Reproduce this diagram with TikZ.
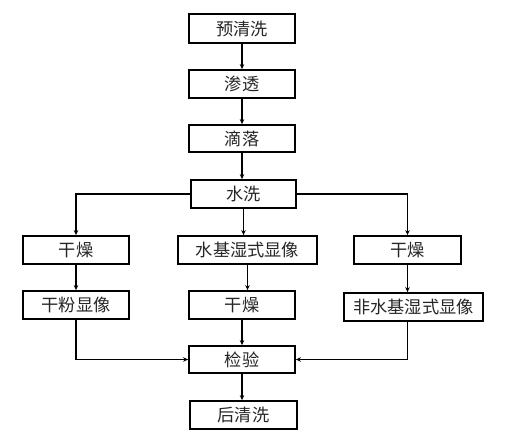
\documentclass[tikz,border=0pt]{standalone}
\usepackage{fontspec}
\newfontfamily\cjk{Noto Sans CJK SC}
\usetikzlibrary{arrows.meta}
\begin{document}
\begin{tikzpicture}[x=1pt,y=-1pt,
  box/.style={draw=black,line width=1.8pt,minimum height=28pt,inner sep=0pt,font=\cjk\fontsize{17.2}{19}\selectfont,text=black!85},
  arr/.style={draw=black,line width=1.4pt,-{Stealth[length=5pt,width=4.5pt]}},
  ln/.style={draw=black,line width=1.4pt}]
\useasboundingbox[fill=white] (0,0) rectangle (513,444);
\node[box,minimum width=106pt,minimum height=29pt] (pre) at (242,28.5) {预清洗};
\node[box,minimum width=106pt] (st) at (242,84) {渗透};
\node[box,minimum width=106pt,minimum height=27pt] (dl) at (242,138.5) {滴落};
\node[box,minimum width=105pt] (sx) at (243.5,194) {水洗};
\node[box,minimum width=106pt] (g1) at (76,250) {干燥};
\node[box,minimum width=139pt] (sj) at (247.5,250) {水基湿式显像};
\node[box,minimum width=107pt] (g2) at (407.5,250) {干燥};
\node[box,minimum width=106pt] (gf) at (76,305) {干粉显像};
\node[box,minimum width=106pt] (g3) at (242,305) {干燥};
\node[box,minimum width=139pt] (fs) at (413.5,307) {非水基湿式显像};
\node[box,minimum width=106pt,minimum height=27pt] (jy) at (242,359.5) {检验};
\node[box,minimum width=107pt] (hq) at (243.5,415) {后清洗};
\draw[arr] (pre) -- (st);
\draw[arr] (st) -- (dl);
\draw[arr] (dl.south) -- (dl.south |- sx.north);
\draw[arr] (sx.south) -- (sx.south |- sj.north);
\draw[arr] (sx.west) -| (g1.north);
\draw[arr] (sx.east) -| (g2.north);
\draw[arr] (g1) -- (gf);
\draw[arr] (sj.south) -- (sj.south |- g3.north);
\draw[arr] (g2.south) -- (g2.south |- fs.north);
\draw[arr] (gf.south) |- (jy.west);
\coordinate (fsb) at (g2.south |- fs.south);
\draw[arr] (fsb) |- (jy.east);
\draw[arr] (g3) -- (jy);
\draw[arr] (jy.south) -- (jy.south |- hq.north);
\end{tikzpicture}
\end{document}
